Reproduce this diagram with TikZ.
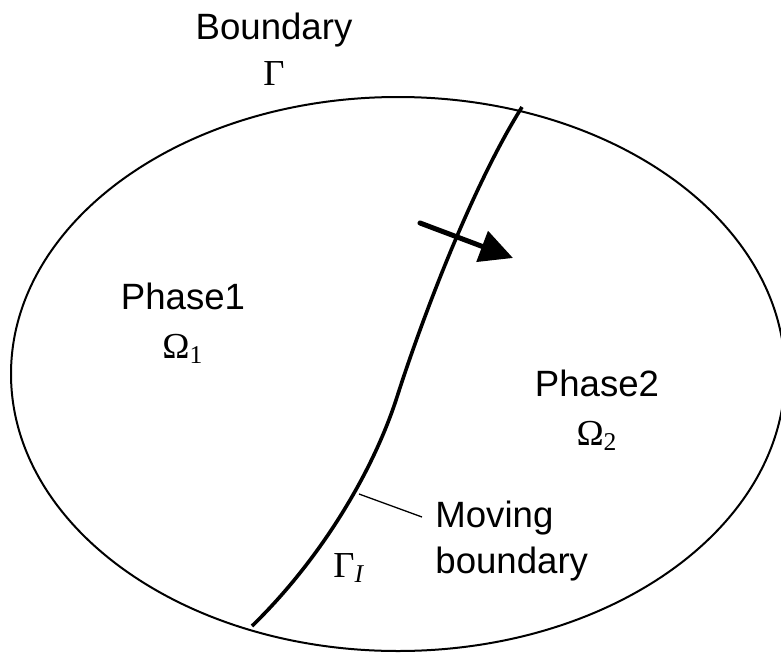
\documentclass[tikz,border=0pt]{standalone}
\usepackage{fontspec}
\setmainfont{Liberation Sans}
\newfontfamily\grk{Liberation Serif}
\usetikzlibrary{arrows.meta}

\begin{document}
\begin{tikzpicture}[x=0.5pt, y=-0.5pt,
  lbl/.style={font=\fontsize{18.3}{23}\selectfont, inner sep=0pt, align=center}]
\useasboundingbox (0,0) rectangle (781,653);
% Outer boundary
\draw[line width=1pt] (398,374) ellipse [x radius=387, y radius=277];
% Moving interface
\coordinate (lead) at (359,494);
\coordinate (tail) at (422,517);
\draw[line width=1.8pt] (252,626) .. controls (318,562) and (372,475) .. (397,397) .. controls (420,325) and (470,190) .. (522,107);
% Direction of motion
\coordinate (from) at (420,223);
\coordinate (to) at (513,258);
\draw[line width=2.5pt, line cap=round, -{Triangle[length=16.5pt, width=16pt]}] (from) -- (to);
% Labels
\node[lbl, anchor=base] (bnd) at (274,85) {Boundary\\{\grk Γ}};
\node[lbl, anchor=base] (ph1) at (183,358) {Phase1\\[1.5pt]{\grk Ω\textsubscript{1}}};
\node[lbl, anchor=base] (ph2) at (597,445) {Phase2\\[1.5pt]{\grk Ω\textsubscript{2}}};
\node[lbl, align=left, anchor=base west] (mov) at (435,573) {Moving\\boundary};
\node[lbl, anchor=base west] (gi) at (333,577) {{\grk Γ\textsubscript{\itshape I}}};
\draw[line width=0.65pt] (lead) -- (tail);
\end{tikzpicture}
\end{document}
